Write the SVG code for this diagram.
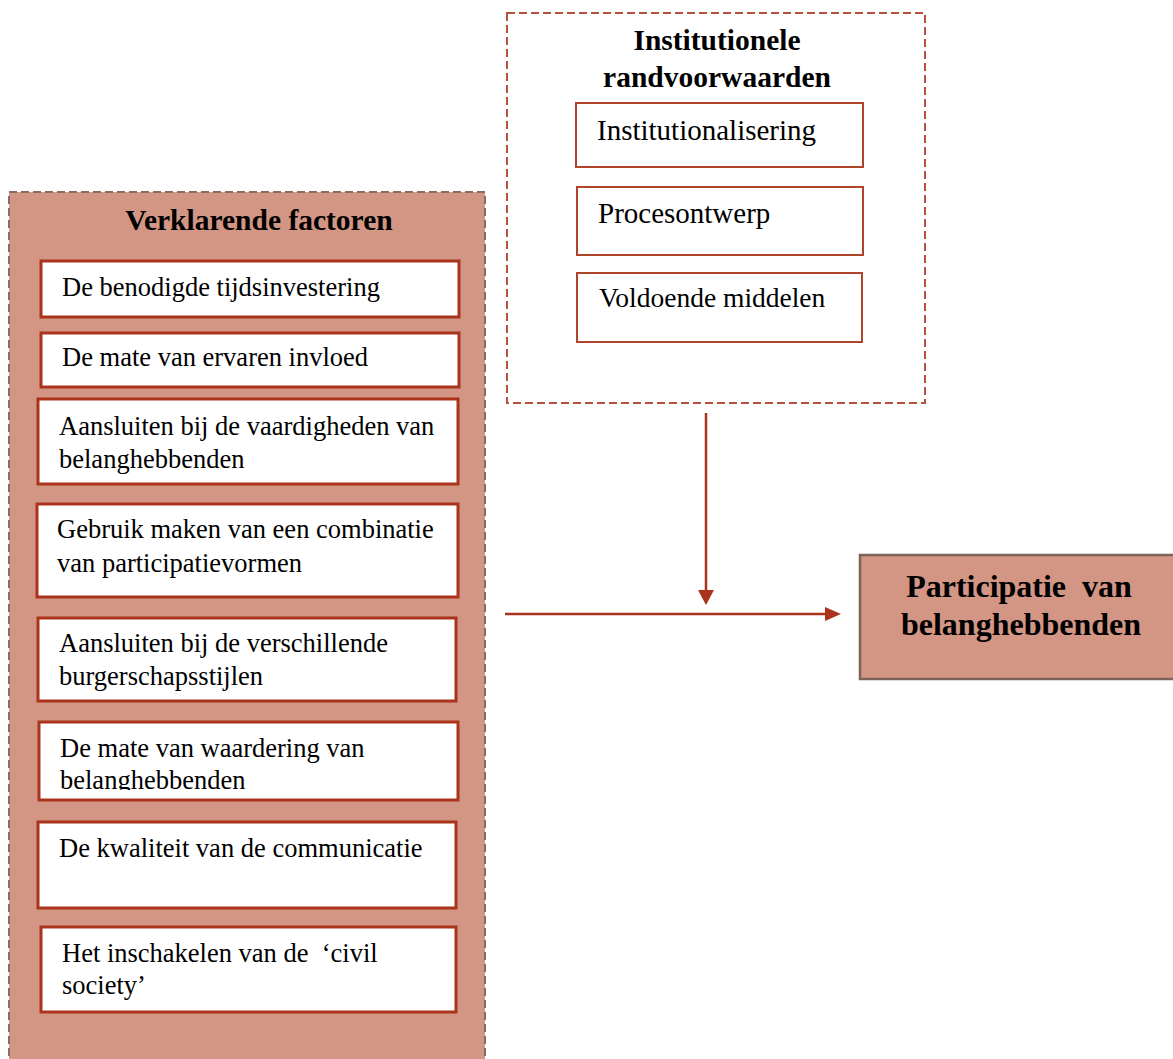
<svg xmlns="http://www.w3.org/2000/svg" width="1173" height="1059" viewBox="0 0 1173 1059">
<style>
.t{font-family:"Liberation Serif","Times New Roman",serif;font-size:26.5px;fill:#000}
.r{font-family:"Liberation Serif","Times New Roman",serif;font-size:29px;fill:#000}
.h{font-family:"Liberation Serif","Times New Roman",serif;font-size:29.5px;font-weight:bold;fill:#000}
.p{font-family:"Liberation Serif","Times New Roman",serif;font-size:32px;font-weight:bold;fill:#000}
.box{fill:#fff;stroke:#a9341b;stroke-width:3}
.rbox{fill:#fff;stroke:#b0442a;stroke-width:2}
.conn{stroke:#a9341b;stroke-width:2.5;fill:none}
.head{fill:#a9341b}
</style>
<defs>
<clipPath id="c6"><rect x="40" y="723" width="417" height="67"/></clipPath>
</defs>
<g id="verklarende">
<rect x="9" y="192" width="476" height="880" fill="#d39584" stroke="#8a6c60" stroke-width="2" stroke-dasharray="8,4"/>
<text class="h" x="259" y="230" text-anchor="middle">Verklarende factoren</text>
</g>
<g id="f1"><rect class="box" x="41" y="261" width="418" height="56"/><text class="t" x="62" y="296">De benodigde tijdsinvestering</text></g>
<g id="f2"><rect class="box" x="41" y="333" width="418" height="54"/><text class="t" x="62" y="366">De mate van ervaren invloed</text></g>
<g id="f3"><rect class="box" x="38" y="399" width="420" height="85"/><text class="t" x="59" y="435">Aansluiten bij de vaardigheden van</text><text class="t" x="59" y="468">belanghebbenden</text></g>
<g id="f4"><rect class="box" x="37" y="504" width="421" height="93"/><text class="t" x="57" y="538">Gebruik maken van een combinatie</text><text class="t" x="57" y="572">van participatievormen</text></g>
<g id="f5"><rect class="box" x="38" y="618" width="418" height="83"/><text class="t" x="59" y="652">Aansluiten bij de verschillende</text><text class="t" x="59" y="685">burgerschapsstijlen</text></g>
<g id="f6"><rect class="box" x="39" y="722" width="419" height="78"/><g clip-path="url(#c6)"><text class="t" x="60" y="757">De mate van waardering van</text><text class="t" x="60" y="789">belanghebbenden</text></g></g>
<g id="f7"><rect class="box" x="38" y="822" width="418" height="86"/><text class="t" x="59" y="857">De kwaliteit van de communicatie</text></g>
<g id="f8"><rect class="box" x="41" y="927" width="415" height="85"/><text class="t" x="62" y="962" xml:space="preserve">Het inschakelen van de  ‘civil</text><text class="t" x="62" y="994">society’</text></g>
<g id="institutionele">
<rect x="507" y="13" width="418" height="390" fill="#fff" stroke="#b5513a" stroke-width="2" stroke-dasharray="8,4"/>
<text class="h" x="717" y="50" text-anchor="middle">Institutionele</text>
<text class="h" x="717" y="87" text-anchor="middle">randvoorwaarden</text>
</g>
<g id="i1"><rect class="rbox" x="576" y="103" width="287" height="64"/><text class="r" x="597" y="140">Institutionalisering</text></g>
<g id="i2"><rect class="rbox" x="577" y="187" width="286" height="68"/><text class="r" x="598" y="223">Procesontwerp</text></g>
<g id="i3"><rect class="rbox" x="577" y="273" width="285" height="69"/><text class="r" x="599" y="307" style="font-size:27.5px">Voldoende middelen</text></g>
<g id="participatie">
<rect x="860" y="555" width="320" height="124" fill="#d39584" stroke="#7d6458" stroke-width="2.5"/>
<text class="p" x="1019" y="597" text-anchor="middle" xml:space="preserve">Participatie  van</text>
<text class="p" x="1021" y="635" text-anchor="middle">belanghebbenden</text>
</g>
<g id="connectors">
<line class="conn" x1="706" y1="413" x2="706" y2="592"/>
<path class="head" d="M698,590 L714,590 L706,605 Z"/>
<line class="conn" x1="505" y1="614" x2="827" y2="614"/>
<path class="head" d="M825,607 L841,614 L825,621 Z"/>
</g>
</svg>
